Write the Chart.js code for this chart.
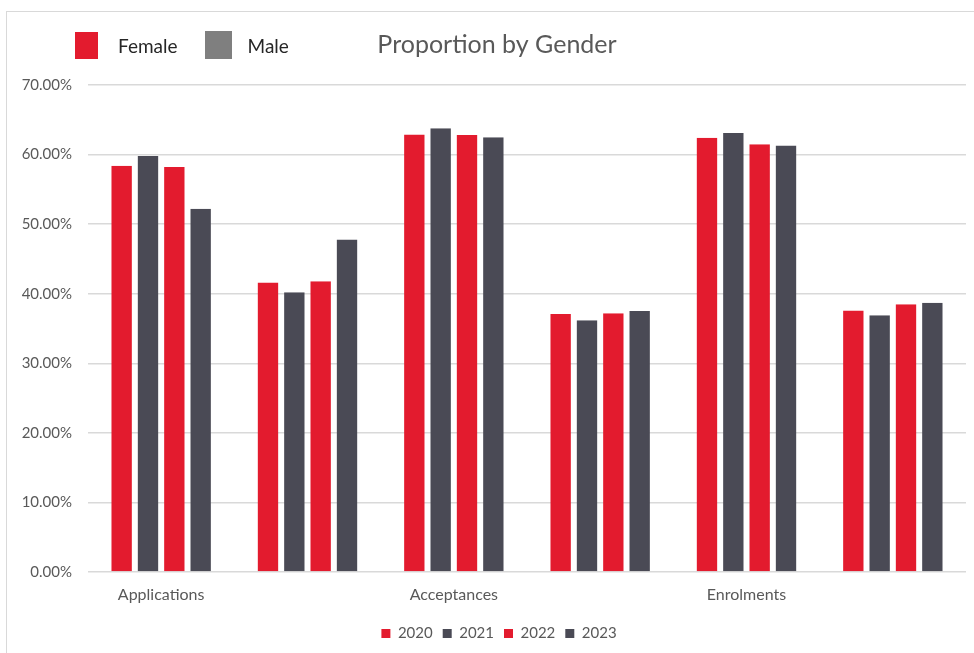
<!DOCTYPE html>
<html>
<head>
<meta charset="utf-8">
<title>Proportion by Gender</title>
<script src="https://cdn.jsdelivr.net/npm/chart.js@4.4.1/dist/chart.umd.min.js"></script>
<style>
    html, body {
        margin: 0;
        padding: 0;
        background: #ffffff;
        font-family: Lato, 'Noto Sans', sans-serif;
    }
    .wrap {
        position: relative;
        width: 974px;
        height: 653px;
        overflow: hidden;
    }
    .frame {
        position: absolute;
        left: 6px;
        top: 11px;
        width: 980px;
        height: 660px;
        border-left: 1.5px solid #d9d9d9;
        border-top: 1.5px solid #d9d9d9;
    }
    #chart {
        position: absolute;
        left: 0;
        top: 0;
    }
    .gender-legend {
        position: absolute;
        top: 31px;
        left: 75px;
        display: flex;
        align-items: center;
        font-size: 19px;
        color: #262626;
    }
    .gender-legend .swatch {
        display: inline-block;
        width: 23px;
        height: 27px;
        margin-right: 20px;
    }
    .gender-legend .item {
        display: flex;
        align-items: center;
    }
    .gender-legend .item + .item {
        margin-left: 27px;
    }
    .gender-legend .item + .item .swatch {
        width: 27px;
        height: 28px;
        margin-right: 16px;
    }
</style>
</head>
<body>
<div class="wrap">
    <div class="frame"></div>
    <canvas id="chart" width="974" height="653"></canvas>
    <div class="gender-legend">
        <span class="item"><span class="swatch" style="background:#e31b2e"></span>Female</span>
        <span class="item"><span class="swatch" style="background:#7f7f7f"></span>Male</span>
    </div>
</div>
<script>
    // Chart data
    const categories = ['Applications', '', 'Acceptances', '', 'Enrolments', ''];
    const years = ['2020', '2021', '2022', '2023'];
    const values2020 = [58.4, 41.6, 62.9, 37.1, 62.4, 37.6];
    const values2021 = [59.8, 40.2, 63.8, 36.2, 63.1, 36.9];
    const values2022 = [58.2, 41.8, 62.8, 37.2, 61.5, 38.5];
    const values2023 = [52.2, 47.8, 62.5, 37.5, 61.3, 38.7];
    const yTicks = [0, 10, 20, 30, 40, 50, 60, 70];

    const RED = '#e31b2e';
    const DARK = '#4a4a55';
    const TEXT = '#595959';

    const seriesValues = [values2020, values2021, values2022, values2023];
    const seriesColors = [RED, DARK, RED, DARK];

    const datasets = years.map((year, i) => ({
        label: year,
        data: seriesValues[i],
        backgroundColor: seriesColors[i],
        // transparent side borders leave a gap between neighbouring bars
        borderColor: 'rgba(0, 0, 0, 0)',
        borderWidth: { left: 3, right: 3, top: 0, bottom: 0 },
        borderSkipped: false,
        barPercentage: 1,
        categoryPercentage: 0.72
    }));

    // title and legend sit a little right of the canvas centre in the original
    const nudgePlugin = {
        id: 'nudge',
        afterLayout(chart) {
            if (chart.titleBlock) {
                chart.titleBlock.left += 4;
                chart.titleBlock.right += 4;
            }
            if (chart.legend) {
                chart.legend.left += 6;
                chart.legend.right += 6;
            }
        }
    };

    const ctx = document.getElementById('chart').getContext('2d');

    new Chart(ctx, {
        type: 'bar',
        data: {
            labels: categories,
            datasets
        },
        plugins: [nudgePlugin],
        options: {
            responsive: false,
            animation: false,
            devicePixelRatio: 1,
            layout: {
                padding: { left: 20, right: 8, top: 0, bottom: 2 }
            },
            plugins: {
                title: {
                    display: true,
                    text: 'Proportion by Gender',
                    color: TEXT,
                    font: { family: 'Lato', size: 25, weight: 'normal' },
                    padding: { top: 30, bottom: 25 }
                },
                legend: {
                    display: true,
                    position: 'bottom',
                    labels: {
                        color: TEXT,
                        font: { family: 'Lato', size: 15 },
                        boxWidth: 9,
                        boxHeight: 9,
                        padding: 10
                    }
                },
                tooltip: { enabled: false }
            },
            scales: {
                x: {
                    grid: { display: false },
                    border: { display: false },
                    ticks: {
                        color: TEXT,
                        font: { family: 'Lato', size: 16 },
                        padding: 5,
                        maxRotation: 0,
                        autoSkip: false
                    },
                    afterFit: scale => { scale.height = 44; }
                },
                y: {
                    min: yTicks[0],
                    max: yTicks[yTicks.length - 1],
                    grid: {
                        color: '#d9d9d9',
                        lineWidth: 1.5,
                        drawTicks: false
                    },
                    border: { display: false },
                    ticks: {
                        stepSize: yTicks[1] - yTicks[0],
                        color: TEXT,
                        font: { family: 'Lato', size: 15 },
                        padding: 16,
                        callback: value => Number(value).toFixed(2) + '%'
                    },
                    afterFit: scale => { scale.width = 68; }
                }
            }
        }
    });
</script>
</body>
</html>
